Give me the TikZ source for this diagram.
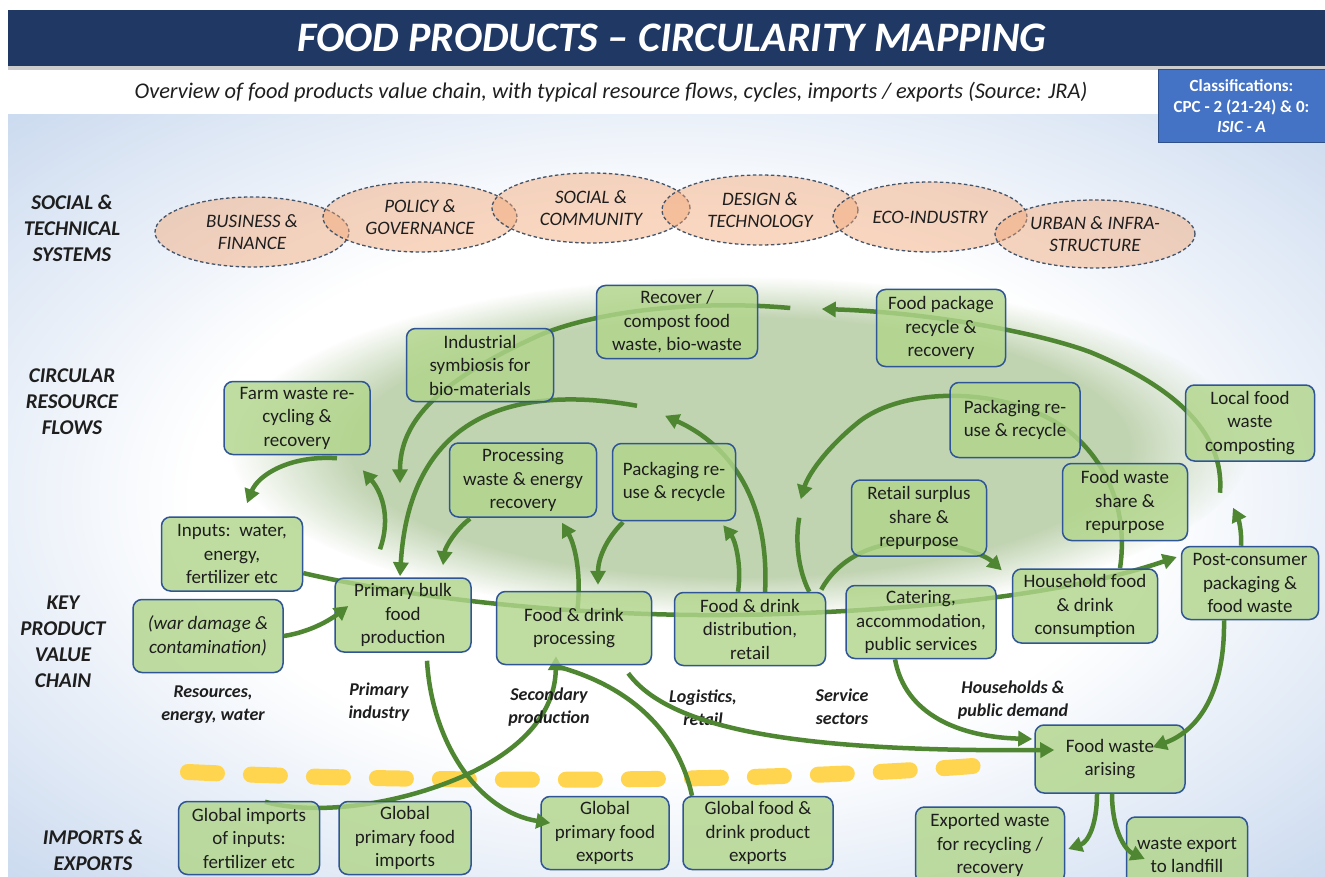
\documentclass[tikz,border=0pt]{standalone}
\usepackage{fontspec}
\setmainfont{Carlito}
\usepackage{tikz}
\usetikzlibrary{arrows.meta}
\usetikzlibrary{shapes.geometric}
\usetikzlibrary{fadings}

\definecolor{titleblue}{RGB}{31,56,100}
\definecolor{classblue}{RGB}{68,114,196}
\definecolor{boxgreen}{RGB}{178,214,140}
\definecolor{boxedge}{RGB}{47,85,151}
\definecolor{flowgreen}{RGB}{78,134,50}
\definecolor{peach}{RGB}{242,165,115}
\definecolor{dashgrey}{RGB}{68,84,106}
\definecolor{glowgreen}{RGB}{193,212,178}
\definecolor{bgblue}{RGB}{196,213,237}
\definecolor{borderyellow}{RGB}{255,213,79}
\definecolor{inktext}{RGB}{30,30,30}

\pgfdeclareradialshading{backshade}{\pgfpointorigin}{color(0bp)=(white); color(18bp)=(white); color(38bp)=(bgblue); color(50bp)=(bgblue)}
\pgfdeclareradialshading{glowshade}{\pgfpointorigin}{color(0bp)=(white); color(19bp)=(white); color(25bp)=(black); color(50bp)=(black)}
\pgfdeclarefading{glowfade}{\pgfuseshading{glowshade}}
\pgfdeclarelayer{back}
\pgfdeclarelayer{flowlayer}
\pgfsetlayers{back,flowlayer,main}

\tikzset{
  box/.style={draw=boxedge, line width=1.5pt, rounded corners=9pt, fill=boxgreen, fill opacity=0.82, text opacity=1, text=inktext, align=center, inner sep=2pt, minimum height=73pt, font=\fontsize{19}{23.5}\selectfont},
  social/.style={ellipse, draw=dashgrey, dash pattern=on 3.5pt off 2.5pt, line width=1.3pt, fill=peach, fill opacity=0.45, text opacity=1, text=inktext, align=center, minimum height=70pt, inner sep=0pt, font=\fontsize{19}{22.5}\selectfont\itshape},
  rowhead/.style={align=center, text=inktext, font=\fontsize{21}{26}\selectfont\bfseries\itshape},
  stage/.style={align=center, text=inktext, font=\fontsize{18}{23}\selectfont\bfseries\itshape},
  flow/.style={draw=flowgreen, line width=4.5pt, -{Triangle[length=14pt,width=15pt]}},
  trail/.style={draw=flowgreen, line width=4.5pt},
}

\begin{document}
\begin{tikzpicture}[x=1pt, y=-1pt]
    \useasboundingbox (0,0) rectangle (1325,877);

    \begin{pgfonlayer}{back}
        \shade[shading=backshade] (8,115) rectangle (1325,877);
        \fill[glowgreen, path fading=glowfade] (740,447) ellipse [x radius=510, y radius=170];
        \draw[borderyellow, line width=16pt, line cap=round, dash pattern=on 29pt off 34pt] (188,772) .. controls (400,782) and (750,785) .. (998,764);
        \fill[black!20] (8,66) rectangle (1325,70);
        \fill[titleblue] (8,10) rectangle (1325,66);
    \end{pgfonlayer}

    \node[text=white, font=\fontsize{42}{48}\selectfont\bfseries\itshape] (title) at (672,38) {FOOD PRODUCTS – CIRCULARITY MAPPING};
    \node[text=inktext, font=\fontsize{22.4}{26}\selectfont\itshape] (subtitle) at (611,92) {Overview of food products value chain, with typical resource flows, cycles, imports / exports (Source: JRA)};
    \node[fill=classblue, draw=classblue!70!black, line width=1pt, minimum width=167pt, minimum height=73pt, align=center, text=white, font=\fontsize{17}{20.5}\selectfont\bfseries] (classes) at (1241.5,106.5) {Classifications:\\CPC - 2 (21-24) \& 0:\\\textit{ISIC - A}};

    \node[rowhead] (socialhead) at (72,228) {SOCIAL \&\\TECHNICAL\\SYSTEMS};
    \node[rowhead] (circhead) at (72,402) {CIRCULAR\\RESOURCE\\FLOWS};
    \node[rowhead] (keyhead) at (63,642) {KEY\\PRODUCT\\VALUE\\CHAIN};
    \node[rowhead] (tradehead) at (93,850) {IMPORTS \&\\EXPORTS};

    \node[social, minimum width=194pt] (business) at (252,232) {BUSINESS \&\\FINANCE};
    \node[social, minimum width=194pt] (policy) at (420,217) {POLICY \&\\GOVERNANCE};
    \node[social, minimum width=198pt] (community) at (591,208) {SOCIAL \&\\COMMUNITY};
    \node[social, minimum width=196pt] (design) at (760,210) {DESIGN \&\\TECHNOLOGY};
    \node[social, minimum width=194pt] (eco) at (930,217) {ECO-INDUSTRY};
    \node[social, minimum width=200pt, minimum height=68pt] (urban) at (1095,234) {URBAN \& INFRA-\\STRUCTURE};

    \node[box, minimum width=146pt] (farm) at (297,418) {Farm waste re-\\cycling \&\\recovery};
    \node[box, minimum width=147pt] (indsym) at (480,365) {Industrial\\symbiosis for\\bio-materials};
    \node[box, minimum width=161pt] (recover) at (677,322) {Recover /\\compost food\\waste, bio-waste};
    \node[box, minimum width=129pt, minimum height=77pt] (pkgrec) at (941,328) {Food package\\recycle \&\\recovery};
    \node[box, minimum width=129pt, minimum height=76pt] (local) at (1250,423) {Local food\\waste\\composting};
    \node[box, minimum width=130pt, minimum height=75pt] (pkgtwo) at (1015,420) {Packaging re-\\use \& recycle};
    \node[box, minimum width=125pt, minimum height=77pt] (fwshare) at (1125,502) {Food waste\\share \&\\repurpose};
    \node[box, minimum width=147pt, minimum height=74pt] (procwaste) at (523,480) {Processing\\waste \& energy\\recovery};
    \node[box, minimum width=123pt, minimum height=77pt] (pkgone) at (674,482) {Packaging re-\\use \& recycle};
    \node[box, minimum width=135pt, minimum height=76pt] (surplus) at (919,518) {Retail surplus\\share \&\\repurpose};
    \node[box, minimum width=141pt, minimum height=74pt] (inputs) at (232,554) {Inputs:\ \ water,\\energy,\\fertilizer etc};
    \node[box, minimum width=150pt, font=\fontsize{19}{23.5}\selectfont\itshape] (war) at (208,636) {(war damage \&\\contamination)};
    \node[box, minimum width=136pt, minimum height=74pt] (primary) at (403,615) {Primary bulk\\food\\production};
    \node[box, minimum width=155pt] (processing) at (574,628) {Food \& drink\\processing};
    \node[box, minimum width=151pt] (distrib) at (750,629) {Food \& drink\\distribution,\\retail};
    \node[box, minimum width=150pt] (catering) at (921,622) {Catering,\\accommodation,\\public services};
    \node[box, minimum width=145pt, minimum height=74pt] (household) at (1085,606) {Household food\\\& drink\\consumption};
    \node[box, minimum width=137pt] (postcons) at (1250,583) {Post-consumer\\packaging \&\\food waste};
    \node[box, minimum width=150pt, minimum height=68pt] (arising) at (1110,759) {Food waste\\arising};
    \node[box, minimum width=141pt] (impinputs) at (249,838) {Global imports\\of inputs:\\fertilizer etc};
    \node[box, minimum width=132pt] (impfood) at (405,838) {Global\\primary food\\imports};
    \node[box, minimum width=128pt] (expfood) at (605,833) {Global\\primary food\\exports};
    \node[box, minimum width=150pt] (expdrink) at (758,833) {Global food \&\\drink product\\exports};
    \node[box, minimum width=149pt, minimum height=76pt] (expwaste) at (990,845) {Exported waste\\for recycling /\\recovery};
    \node[box, minimum width=121pt, minimum height=76pt] (landfill) at (1187,855) {waste export\\to landfill};

    \node[stage] (resources) at (213,705) {Resources,\\energy, water};
    \node[stage] (primind) at (379,702) {Primary\\industry};
    \node[stage] (secprod) at (549,707) {Secondary\\production};
    \node[stage] (logistics) at (703,708) {Logistics,\\retail};
    \node[stage] (service) at (842,707) {Service\\sectors};
    \node[stage] (demand) at (1013,700) {Households \&\\public demand};

    \begin{pgfonlayer}{flowlayer}
        \draw[flow] (inputs.-15) .. controls (420,600) and (600,620) .. (780,614) .. controls (950,608) and (1080,590) .. ([shift={(-4,-26)}]postcons.west);
        \draw[flow] ([shift={(-23,-28)}]primary.north) .. controls (392,515) and (380,490) .. ([shift={(-8,15)}]farm.south east);
        \draw[flow] ([shift={(40,3)}]farm.south) .. controls (290,455) and (258,475) .. ([shift={(15,-13)}]inputs.north);
        \draw[flow] ([shift={(32,-14)}]recover.east) .. controls (700,300) and (600,310) .. (540,335) .. controls (440,380) and (400,420) .. ([shift={(-3,-94)}]primary.north);
        \draw[flow] ([shift={(-37,-37)}]pkgone.north) .. controls (520,385) and (410,410) .. ([shift={(-3,-1)}]primary.north);
        \draw[flow] ([shift={(3,-15)}]processing.center) .. controls (582,575) and (575,545) .. ([shift={(39,5)}]procwaste.south);
        \draw[flow] ([shift={(15,1)}]distrib.north) .. controls (770,500) and (730,445) .. ([shift={(-9,-27)}]pkgone.north);
        \draw[trail] ([shift={(-17,0)}]distrib.north east) .. controls (798,570) and (795,540) .. ([shift={(-27,-74)}]distrib.north east);
        \draw[flow] ([shift={(35,0)}]household.north) .. controls (1128,515) and (1110,465) .. (1070,432) .. controls (1010,385) and (900,385) .. (855,425) .. controls (825,450) and (808,475) .. ([shift={(-50,20)}]surplus.north west);
        \draw[flow] ([shift={(-5,-2)}]distrib.north east) .. controls (840,555) and (880,540) .. (920,542) .. controls (955,543) and (985,555) .. ([shift={(-10,2)}]household.north west);
        \draw[flow] ([shift={(-30,31)}]local.south) .. controls (1225,430) and (1170,385) .. (1090,352) .. controls (1030,330) and (920,312) .. ([shift={(-54,-19)}]pkgrec.west);
        \draw[trail] ([shift={(-14,2)}]processing.south) .. controls (640,690) and (680,740) .. ([shift={(-66,0)}]expdrink.north);
        \draw[flow] ([shift={(16,1)}]impinputs.north) .. controls (300,812) and (360,810) .. (420,792) .. controls (510,765) and (555,720) .. ([shift={(-18,-9)}]processing.south);
    \end{pgfonlayer}

    \draw[flow] (war.east) .. controls (310,632) and (330,620) .. ([shift={(14,-9)}]primary.west);
    \draw[flow] ([shift={(-53,1)}]procwaste.south) .. controls (455,530) and (445,548) .. ([shift={(40,-12)}]primary.north);
    \draw[flow] ([shift={(-51,1)}]pkgone.south) .. controls (605,540) and (598,560) .. ([shift={(24,-6)}]processing.north);
    \draw[flow] ([shift={(-12,0)}]distrib.north) .. controls (742,565) and (735,540) .. ([shift={(-13,4)}]pkgone.south east);
    \draw[flow] ([shift={(-26,0)}]catering.south) .. controls (905,715) and (960,737) .. ([shift={(-2,-20)}]arising.west);
    \draw[flow] ([shift={(-24,8)}]processing.south east) .. controls (670,730) and (800,752) .. ([shift={(20,-9)}]arising.west);
    \draw[flow] ([shift={(24,8)}]primary.south) .. controls (432,745) and (480,812) .. ([shift={(10,-10)}]expfood.west);
    \draw[flow] ([shift={(-13,0)}]arising.south) .. controls (1097,825) and (1088,842) .. ([shift={(3,4)}]expwaste.east);
    \draw[flow] ([shift={(2,0)}]arising.south) .. controls (1112,830) and (1125,850) .. ([shift={(19,4)}]landfill.west);
    \draw[flow] ([shift={(-26,0)}]postcons.south) .. controls (1225,690) and (1200,730) .. ([shift={(-33,23)}]arising.north east);
    \draw[flow] ([shift={(-9,0)}]postcons.north) .. controls (1242,530) and (1238,518) .. ([shift={(-17,46)}]local.south);
\end{tikzpicture}
\end{document}
